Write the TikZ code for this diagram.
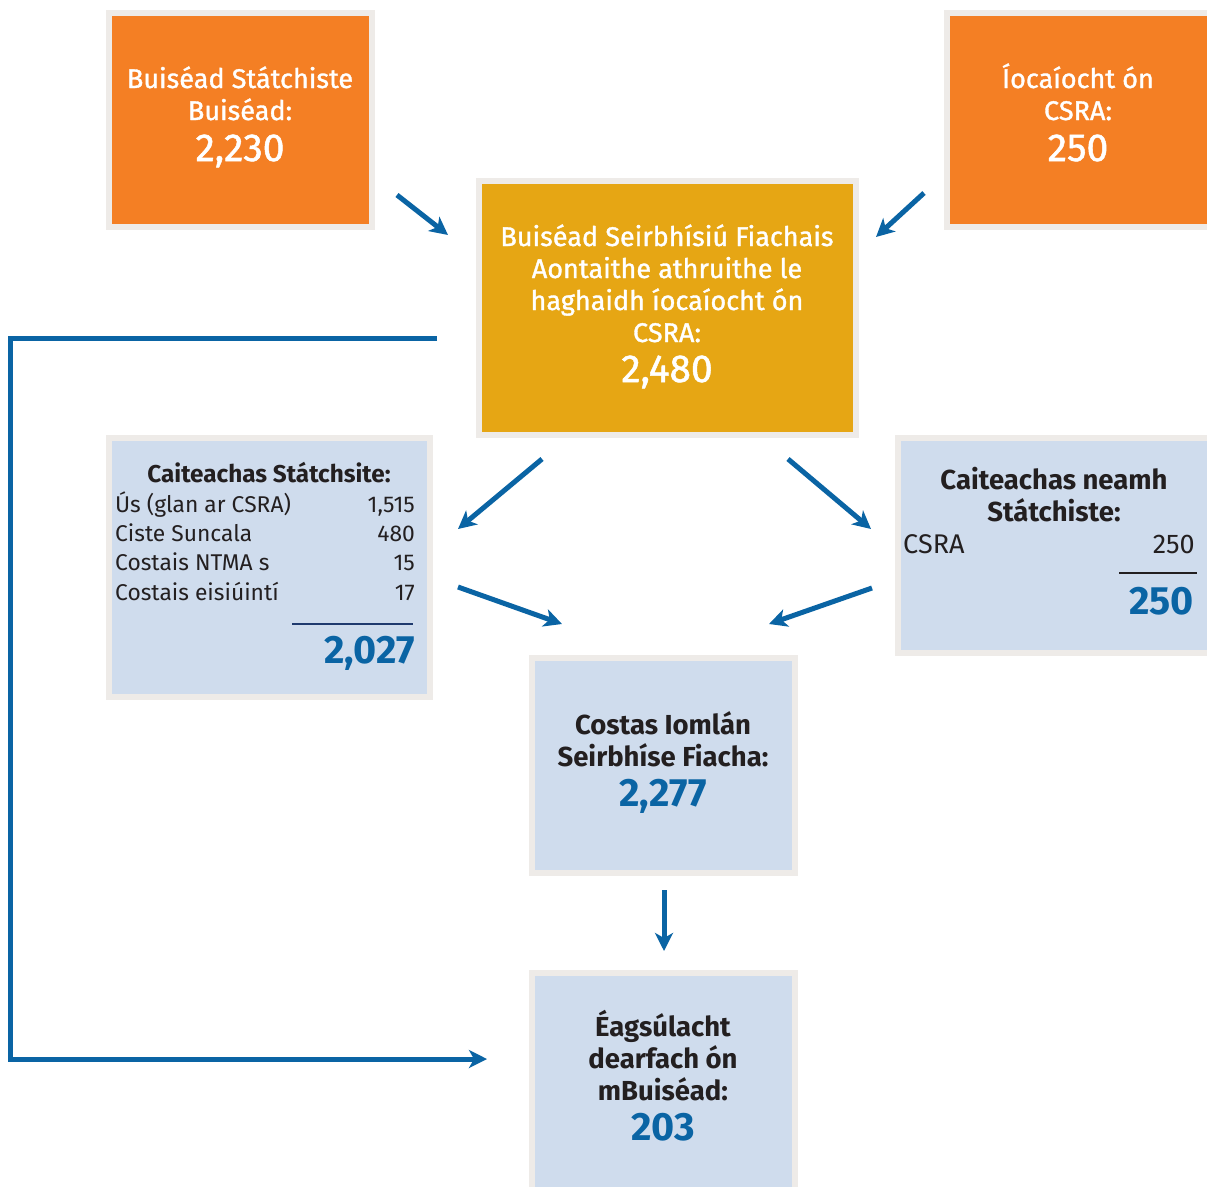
\documentclass[tikz,border=0pt]{standalone}
\usepackage{fontspec}
\setmainfont{Fira Sans}
\newfontfamily\medfont{Fira Sans}[FakeBold=1.3]
\usetikzlibrary{arrows.meta}
\definecolor{orng}{HTML}{F47F24}
\definecolor{gold}{HTML}{E6A614}
\definecolor{pale}{HTML}{CFDCED}
\definecolor{rim}{HTML}{EEEBE8}
\definecolor{flow}{HTML}{0A64A4}
\definecolor{ink}{HTML}{231F20}
\definecolor{navy}{HTML}{1F3A6E}
\tikzset{
  x=1pt, y=-1pt,
  panel/.style={draw=rim, line width=6pt, inner sep=0pt, outer sep=0pt},
  wtxt/.style={text=white, inner sep=0pt, anchor=base, font=\medfont\fontsize{27}{32}\selectfont},
  wnum/.style={text=white, inner sep=0pt, anchor=base, font=\medfont\fontsize{39}{44}\selectfont},
  dhead/.style={text=ink, inner sep=0pt, anchor=base, font=\bfseries\fontsize{27.5}{32}\selectfont},
  lhead/.style={text=ink, inner sep=0pt, anchor=base, font=\bfseries\fontsize{24.3}{28}\selectfont},
  drow/.style={text=ink, inner sep=0pt, font=\fontsize{22.8}{28}\selectfont},
  rrow/.style={text=ink, inner sep=0pt, font=\fontsize{27}{32}\selectfont},
  bnum/.style={text=flow, inner sep=0pt, font=\bfseries\fontsize{39.5}{44}\selectfont},
  flowarrow/.style={draw=flow, line width=5pt, -{Stealth[length=18pt,width=18pt,inset=5pt]}},
  rule/.style={line width=2pt}
}
\begin{document}
\begin{tikzpicture}
\useasboundingbox (0,0) rectangle (1207,1186);
\clip (0,0) rectangle (1207,1186);
\fill[white] (0,0) rectangle (1207,1186);

% boxes
\node[panel, fill=orng, minimum width=262.5pt, minimum height=214pt] (tl) at (240.25,119.5) {};
\node[panel, fill=orng, minimum width=262.5pt, minimum height=214pt] (tr) at (1078.25,119.5) {};
\node[panel, fill=gold, minimum width=376.5pt, minimum height=253.5pt] (ctr) at (667.25,307.75) {};
\node[panel, fill=pale, minimum width=320.5pt, minimum height=258.5pt] (lt) at (269.25,567.25) {};
\node[panel, fill=pale, minimum width=312pt, minimum height=214.5pt] (rt) at (1054,545.25) {};
\node[panel, fill=pale, minimum width=262.5pt, minimum height=214.5pt] (tot) at (663.25,765.25) {};
\node[panel, fill=pale, minimum width=262.5pt, minimum height=240pt] (var) at (663.25,1093) {};

% top-left text
\node[wtxt] (tla) at (240,88) {Buiséad Státchiste};
\node[wtxt] (tlb) at (240,120) {Buiséad:};
\node[wnum] (tlc) at (240,161) {2,230};

% top-right text
\node[wtxt] (tra) at (1078,88) {Íocaíocht ón};
\node[wtxt] (trb) at (1078,120) {CSRA:};
\node[wnum] (trc) at (1078,161) {250};

% centre text
\node[wtxt] (ca) at (667,246) {Buiséad Seirbhísiú Fiachais};
\node[wtxt] (cb) at (667,278) {Aontaithe athruithe le};
\node[wtxt] (cc) at (667,310) {haghaidh íocaíocht ón};
\node[wtxt] (cd) at (667,342) {CSRA:};
\node[wnum] (ce) at (667,382) {2,480};

% left table
\node[lhead] (lh) at (269,482) {Caiteachas Státchsite:};
\node[drow, anchor=base west] (l1a) at (115,512) {Ús (glan ar CSRA)};
\node[drow, anchor=base east] (l1b) at (415,512) {1,515};
\node[drow, anchor=base west] (l2a) at (115,541) {Ciste Suncala};
\node[drow, anchor=base east] (l2b) at (415,541) {480};
\node[drow, anchor=base west] (l3a) at (115,570) {Costais NTMA s};
\node[drow, anchor=base east] (l3b) at (415,570) {15};
\node[drow, anchor=base west] (l4a) at (115,600) {Costais eisiúintí};
\node[drow, anchor=base east] (l4b) at (415,600) {17};
\coordinate (lr1) at (292,624);
\coordinate (lr2) at (413,624);
\draw[rule, navy] (lr1) -- (lr2);
\node[bnum, anchor=base east] (lsum) at (415,663) {2,027};

% right table
\node[dhead] (rh1) at (1054,489) {Caiteachas neamh};
\node[dhead] (rh2) at (1054,521) {Státchiste:};
\node[rrow, anchor=base west] (r1a) at (903,553) {CSRA};
\node[rrow, anchor=base east] (r1b) at (1195,553) {250};
\coordinate (rr1) at (1119,573);
\coordinate (rr2) at (1197,573);
\draw[rule, ink] (rr1) -- (rr2);
\node[bnum, anchor=base east] (rsum) at (1194,614) {250};

% total box
\node[dhead] (ta) at (663,734) {Costas Iomlán};
\node[dhead] (tb) at (663,766) {Seirbhíse Fiacha:};
\node[bnum, anchor=base] (tc) at (663,806) {2,277};

% variance box
\node[dhead] (va) at (663,1036) {Éagsúlacht};
\node[dhead] (vb) at (663,1068) {dearfach ón};
\node[dhead] (vc) at (663,1100) {mBuiséad:};
\node[bnum, anchor=base] (vd) at (663,1140) {203};

% arrows
\coordinate (a1s) at (397,195); \coordinate (a1e) at (448,235);
\coordinate (a2s) at (924,193); \coordinate (a2e) at (876,237);
\coordinate (a3s) at (542,459); \coordinate (a3e) at (458,529);
\coordinate (a4s) at (788,459); \coordinate (a4e) at (871,529);
\coordinate (a5s) at (458,587); \coordinate (a5e) at (562,624);
\coordinate (a6s) at (872,588); \coordinate (a6e) at (769,624);
\coordinate (a7s) at (664,890); \coordinate (a7e) at (664,951);
\draw[flowarrow] (a1s) -- (a1e);
\draw[flowarrow] (a2s) -- (a2e);
\draw[flowarrow] (a3s) -- (a3e);
\draw[flowarrow] (a4s) -- (a4e);
\draw[flowarrow] (a5s) -- (a5e);
\draw[flowarrow] (a6s) -- (a6e);
\draw[flowarrow] (a7s) -- (a7e);

% loop connector
\coordinate (ls) at (437,338.5);
\coordinate (lc1) at (10,338.5);
\coordinate (lc2) at (10,1059);
\coordinate (le) at (487,1059);
\draw[flowarrow, line join=miter] (ls) -- (lc1) -- (lc2) -- (le);
\end{tikzpicture}
\end{document}
